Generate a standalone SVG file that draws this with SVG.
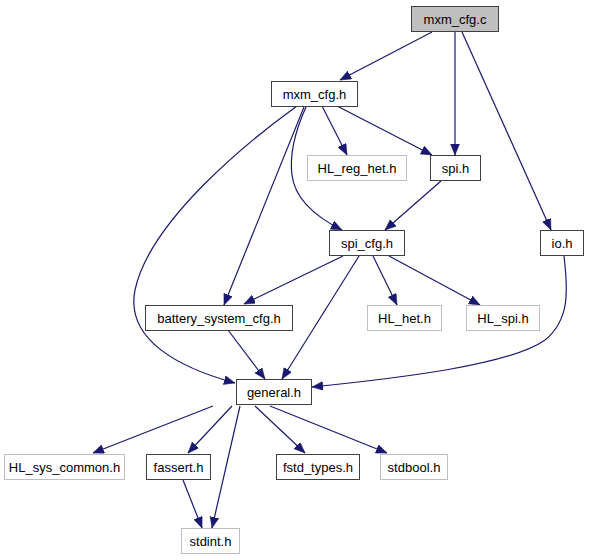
<svg xmlns="http://www.w3.org/2000/svg" width="589" height="560" viewBox="0 0 589 560">
<style>
.n rect{fill:#fff;stroke:#404040;stroke-width:1}
.root rect{fill:#bfbfbf}
.ext rect{stroke:#bfbfbf}
.n text{font-family:"Liberation Sans",Arial,sans-serif;font-size:13px;text-anchor:middle;fill:#000}
.e path{fill:none;stroke:#191970;stroke-width:1.2;marker-end:url(#ah)}
</style>
<defs>
<marker id="ah" markerUnits="userSpaceOnUse" markerWidth="12" markerHeight="10" refX="11" refY="4.5" orient="auto">
<path d="M0,0 L11,4.5 L0,9 z" fill="#191970" stroke="#191970" stroke-width="0.5"/>
</marker>
</defs>
<rect width="589" height="560" fill="#fff"/>
<g id="edges" class="e">
<path d="M432,32 L340,80"/>
<path d="M455,32 L455,155"/>
<path d="M462,32 L551,230"/>
<path d="M322,106 L347,155"/>
<path d="M337,106 L432,155"/>
<path d="M441,181 L385,230"/>
<path d="M306,107 C297,127 289,152 292,175 C295,200 318,218 342,230"/>
<path d="M304,107 L224,305"/>
<path d="M297,106 C250,140 150,220 135,290 C125,340 180,368 235,383"/>
<path d="M343,256 L244,304"/>
<path d="M359,256 L282,379"/>
<path d="M373,256 L397,305"/>
<path d="M389,256 L480,305"/>
<path d="M228,330 L265,379"/>
<path d="M564,256 C568,290 570,320 545,340 C510,365 400,378 312,387"/>
<path d="M213,406 L93,453"/>
<path d="M232,406 L188,453"/>
<path d="M240,406 L212,528"/>
<path d="M255,406 L305,453"/>
<path d="M270,406 L387,453"/>
<path d="M183,480 L202,528"/>
</g>
<g id="mxm_cfg_c" class="n root"><rect x="411.5" y="6.5" width="87" height="25"/><text x="455" y="23.5">mxm_cfg.c</text></g>
<g id="mxm_cfg_h" class="n"><rect x="271.5" y="81.5" width="86" height="25"/><text x="314.5" y="98.5">mxm_cfg.h</text></g>
<g id="HL_reg_het_h" class="n ext"><rect x="307.5" y="155.5" width="99" height="25"/><text x="357" y="172.5">HL_reg_het.h</text></g>
<g id="spi_h" class="n"><rect x="430.5" y="155.5" width="50" height="25"/><text x="455.5" y="172.5">spi.h</text></g>
<g id="spi_cfg_h" class="n"><rect x="329.5" y="230.5" width="75" height="25"/><text x="367" y="247.5">spi_cfg.h</text></g>
<g id="io_h" class="n"><rect x="540.5" y="230.5" width="43" height="25"/><text x="562" y="247.5">io.h</text></g>
<g id="battery_system_cfg_h" class="n"><rect x="145.5" y="305.5" width="147" height="25"/><text x="219" y="322.5">battery_system_cfg.h</text></g>
<g id="HL_het_h" class="n ext"><rect x="367.5" y="305.5" width="74" height="25"/><text x="404.5" y="322.5">HL_het.h</text></g>
<g id="HL_spi_h" class="n ext"><rect x="466.5" y="305.5" width="73" height="25"/><text x="503" y="322.5">HL_spi.h</text></g>
<g id="general_h" class="n"><rect x="236.5" y="379.5" width="75" height="25"/><text x="274" y="396.5">general.h</text></g>
<g id="HL_sys_common_h" class="n ext"><rect x="4.5" y="454.5" width="120" height="25"/><text x="64.5" y="471.5">HL_sys_common.h</text></g>
<g id="fassert_h" class="n"><rect x="146.5" y="454.5" width="64" height="25"/><text x="178.5" y="471.5">fassert.h</text></g>
<g id="fstd_types_h" class="n"><rect x="276.5" y="454.5" width="83" height="25"/><text x="318" y="471.5">fstd_types.h</text></g>
<g id="stdbool_h" class="n ext"><rect x="380.5" y="454.5" width="67" height="25"/><text x="414" y="471.5">stdbool.h</text></g>
<g id="stdint_h" class="n ext"><rect x="181.5" y="528.5" width="58" height="25"/><text x="210.5" y="545.5">stdint.h</text></g>
</svg>
